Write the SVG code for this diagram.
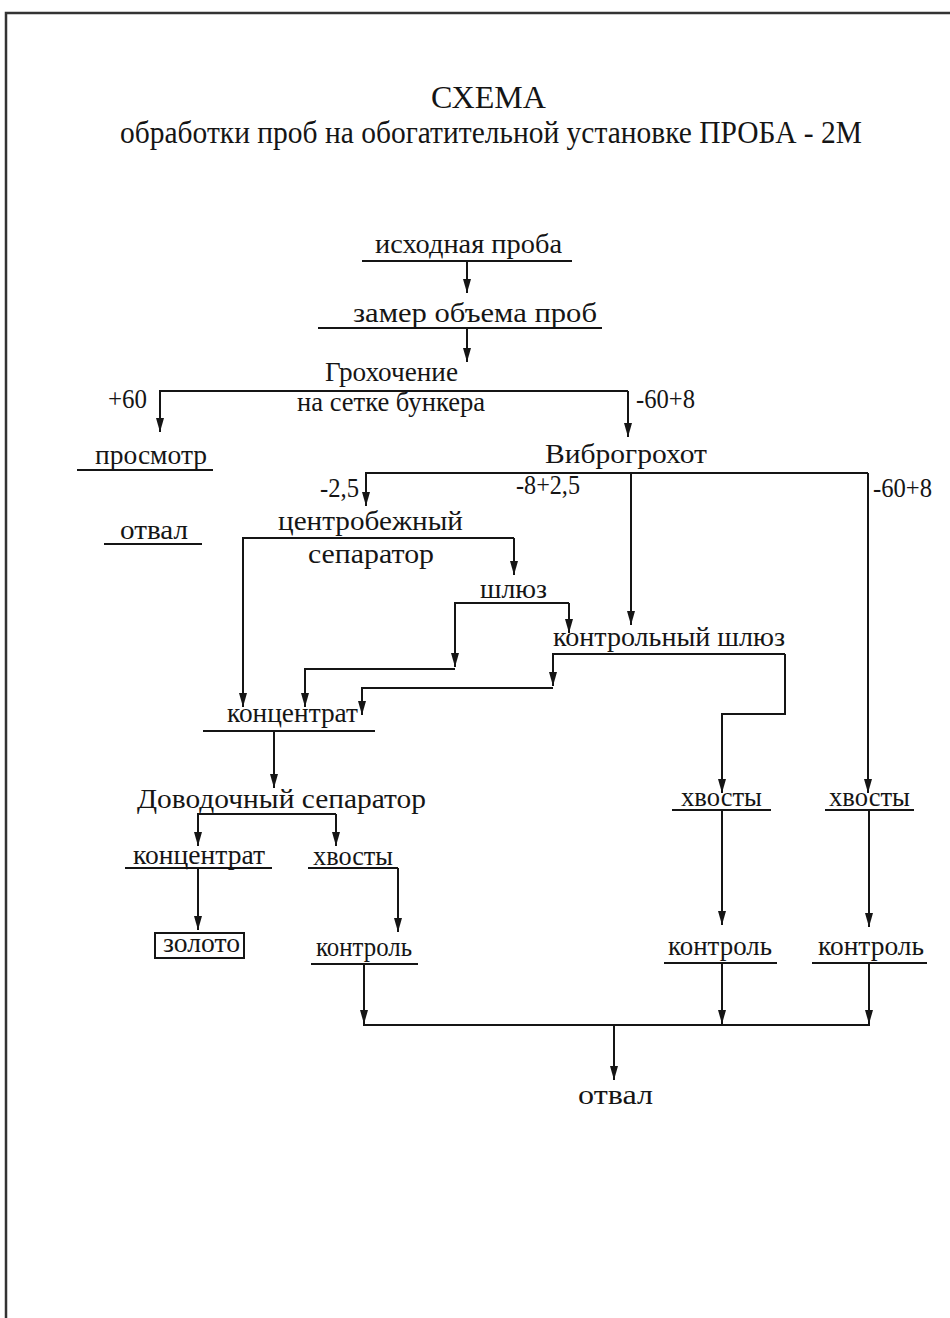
<svg xmlns="http://www.w3.org/2000/svg" width="950" height="1318" viewBox="0 0 950 1318">
<style>
text{font-family:"Liberation Serif","Times New Roman",serif;fill:#151515}
.t{font-size:31px}
.l{font-size:27px}
.c{fill:none;stroke:#151515;stroke-width:2}
.u{stroke:#151515;stroke-width:2}
.a{marker-end:url(#ah)}
</style>
<defs>
<marker id="ah" viewBox="0 0 14 8" refX="14" refY="4" markerWidth="14" markerHeight="8" orient="auto" markerUnits="userSpaceOnUse">
<path d="M0,0 L14,4 L0,8 z" fill="#151515"/>
</marker>
</defs>
<rect width="950" height="1318" fill="#fff"/>
<path d="M6,1318 V13 H950" fill="none" stroke="#333" stroke-width="2.5"/>
<g id="title">
<text class="t" x="431" y="108" textLength="115" lengthAdjust="spacingAndGlyphs">СХЕМА</text>
<text class="t" x="120" y="143" textLength="742" lengthAdjust="spacingAndGlyphs">обработки проб на обогатительной установке ПРОБА - 2М</text>
</g>
<g id="connectors">
<path class="c a" d="M467,261 V293"/>
<path class="c a" d="M467,328 V362"/>
<path class="c a" d="M628,391 H160 V432"/>
<path class="c a" d="M628,391 V437"/>
<path class="c a" d="M868,473 H366 V506"/>
<path class="c a" d="M631,473 V625"/>
<path class="c a" d="M868,473 V793"/>
<path class="c a" d="M514,538 H243 V707"/>
<path class="c a" d="M514,538 V575"/>
<path class="c a" d="M569,603 H455 V667"/>
<path class="c a" d="M569,603 V633"/>
<path class="c a" d="M455,669 H305 V707"/>
<path class="c a" d="M785,654 H553 V686"/>
<path class="c a" d="M553,688 H362 V715"/>
<path class="c a" d="M785,654 V714 H722 V793"/>
<path class="c a" d="M274,731 V788"/>
<path class="c a" d="M336,814 H198 V846"/>
<path class="c a" d="M336,814 V846"/>
<path class="c a" d="M198,868 V930"/>
<path class="c a" d="M398,868 V932"/>
<path class="c a" d="M364,964 V1024"/>
<path class="c a" d="M722,810 V925"/>
<path class="c a" d="M869,810 V927"/>
<path class="c a" d="M722,963 V1024"/>
<path class="c a" d="M869,963 V1024"/>
<path class="c" d="M363,1025 H870"/>
<path class="c a" d="M614,1025 V1080"/>
</g>
<g id="n-ishodnaya"><text class="l" x="375" y="253" textLength="187" lengthAdjust="spacingAndGlyphs">исходная  проба</text><line class="u" x1="362" y1="261" x2="572" y2="261"/></g>
<g id="n-zamer"><text class="l" x="353" y="322" textLength="244" lengthAdjust="spacingAndGlyphs">замер объема проб</text><line class="u" x1="318" y1="328" x2="602" y2="328"/></g>
<g id="n-grohochenie"><text class="l" x="325" y="381" textLength="133" lengthAdjust="spacingAndGlyphs">Грохочение</text><text class="l" x="297" y="411" textLength="188" lengthAdjust="spacingAndGlyphs">на сетке бункера</text></g>
<g id="lbl-60"><text class="l" x="108" y="408" textLength="39" lengthAdjust="spacingAndGlyphs">+60</text></g>
<g id="lbl-60-8a"><text class="l" x="636" y="408" textLength="59" lengthAdjust="spacingAndGlyphs">-60+8</text></g>
<g id="n-prosmotr"><text class="l" x="95" y="464" textLength="112" lengthAdjust="spacingAndGlyphs">просмотр</text><line class="u" x1="77" y1="470" x2="213" y2="470"/></g>
<g id="n-otval1"><text class="l" x="120" y="539" textLength="68" lengthAdjust="spacingAndGlyphs">отвал</text><line class="u" x1="104" y1="544" x2="202" y2="544"/></g>
<g id="n-vibro"><text class="l" x="545" y="463" textLength="162" lengthAdjust="spacingAndGlyphs">Виброгрохот</text></g>
<g id="lbl-25"><text class="l" x="320" y="497" textLength="39" lengthAdjust="spacingAndGlyphs">-2,5</text></g>
<g id="lbl-8-25"><text class="l" x="516" y="494" textLength="64" lengthAdjust="spacingAndGlyphs">-8+2,5</text></g>
<g id="lbl-60-8b"><text class="l" x="873" y="497" textLength="59" lengthAdjust="spacingAndGlyphs">-60+8</text></g>
<g id="n-centr"><text class="l" x="278" y="530" textLength="185" lengthAdjust="spacingAndGlyphs">центробежный</text><text class="l" x="308" y="563" textLength="126" lengthAdjust="spacingAndGlyphs">сепаратор</text></g>
<g id="n-shluz"><text class="l" x="480" y="598" textLength="67" lengthAdjust="spacingAndGlyphs">шлюз</text></g>
<g id="n-kshluz"><text class="l" x="553" y="646" textLength="232" lengthAdjust="spacingAndGlyphs">контрольный шлюз</text></g>
<g id="n-konc1"><text class="l" x="227" y="722" textLength="131" lengthAdjust="spacingAndGlyphs">концентрат</text><line class="u" x1="203" y1="731" x2="375" y2="731"/></g>
<g id="n-dovod"><text class="l" x="137" y="808" textLength="289" lengthAdjust="spacingAndGlyphs">Доводочный сепаратор</text></g>
<g id="n-konc2"><text class="l" x="133" y="864" textLength="132" lengthAdjust="spacingAndGlyphs">концентрат</text><line class="u" x1="125" y1="868" x2="272" y2="868"/></g>
<g id="n-hvosty1"><text class="l" x="313" y="865" textLength="80" lengthAdjust="spacingAndGlyphs">хвосты</text><line class="u" x1="308" y1="868" x2="398" y2="868"/></g>
<g id="n-zoloto"><rect x="155" y="933" width="89" height="25" fill="none" stroke="#151515" stroke-width="2"/><text class="l" x="163" y="952" textLength="77" lengthAdjust="spacingAndGlyphs">золото</text></g>
<g id="n-kontrol1"><text class="l" x="316" y="956" textLength="96" lengthAdjust="spacingAndGlyphs">контроль</text><line class="u" x1="311" y1="964" x2="418" y2="964"/></g>
<g id="n-hvosty2"><text class="l" x="681" y="806" textLength="81" lengthAdjust="spacingAndGlyphs">хвосты</text><line class="u" x1="672" y1="810" x2="771" y2="810"/></g>
<g id="n-hvosty3"><text class="l" x="829" y="806" textLength="81" lengthAdjust="spacingAndGlyphs">хвосты</text><line class="u" x1="825" y1="810" x2="914" y2="810"/></g>
<g id="n-kontrol2"><text class="l" x="668" y="955" textLength="104" lengthAdjust="spacingAndGlyphs">контроль</text><line class="u" x1="664" y1="963" x2="777" y2="963"/></g>
<g id="n-kontrol3"><text class="l" x="818" y="955" textLength="106" lengthAdjust="spacingAndGlyphs">контроль</text><line class="u" x1="812" y1="963" x2="927" y2="963"/></g>
<g id="n-otval2"><text class="l" x="578" y="1104" textLength="75" lengthAdjust="spacingAndGlyphs">отвал</text></g>
</svg>
